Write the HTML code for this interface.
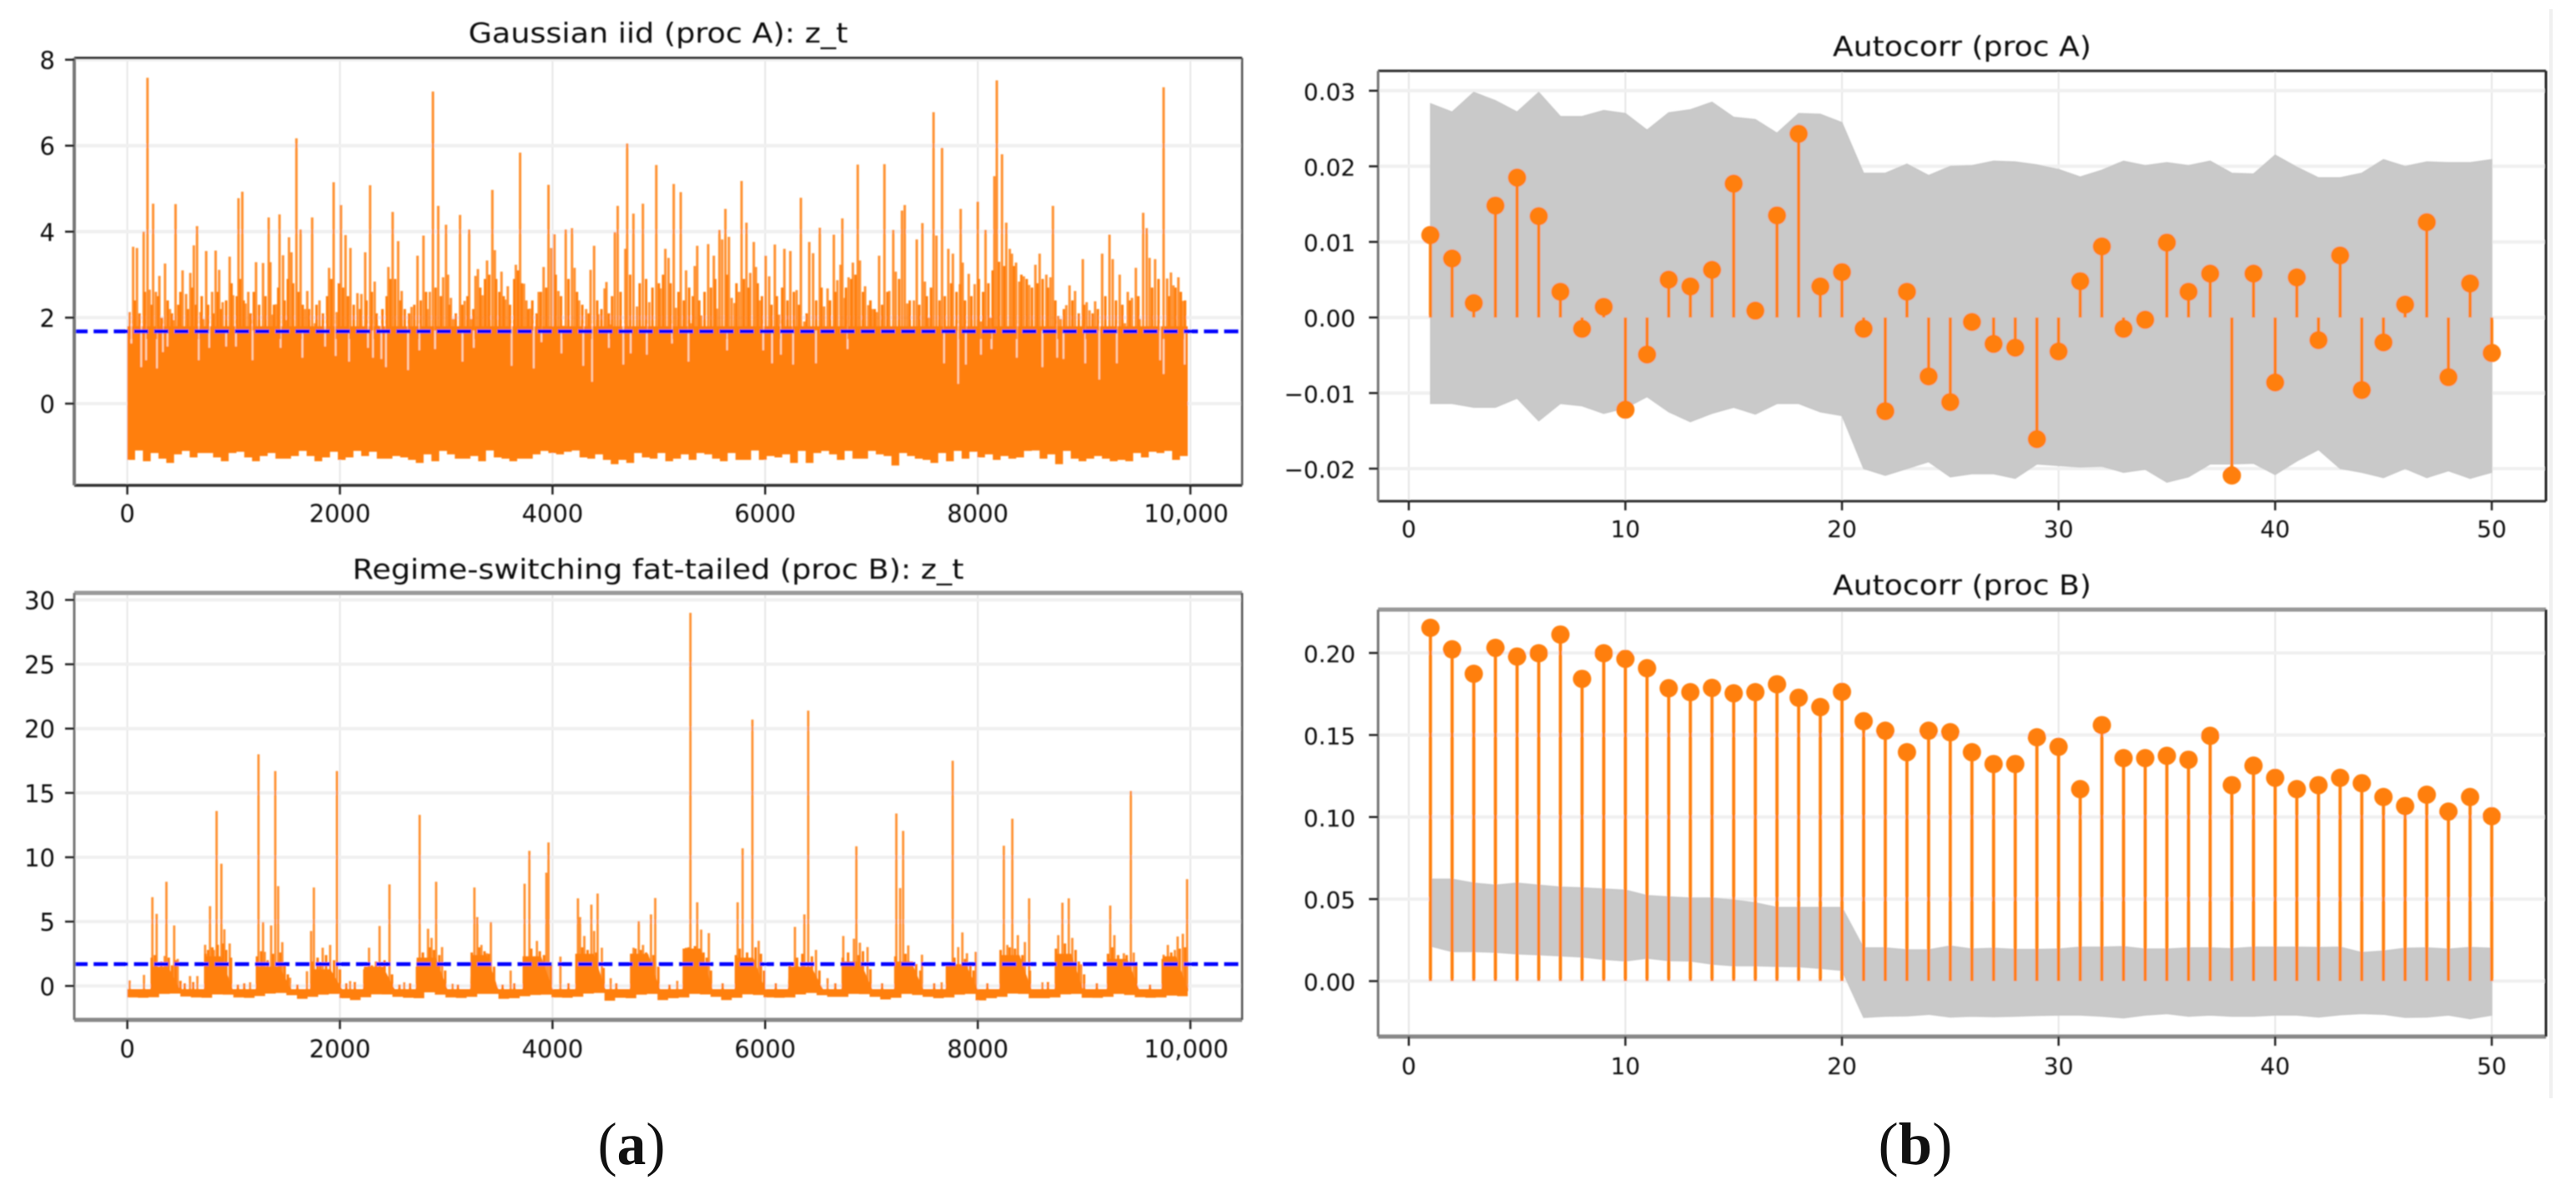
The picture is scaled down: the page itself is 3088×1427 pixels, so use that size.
<!DOCTYPE html>
<html lang="en">
<head>
<meta charset="utf-8">
<title>Gaussian and regime-switching processes with autocorrelation</title>
<style>
html,body{margin:0;padding:0;background:#fff;}
svg{display:block;}
text{font-family:"DejaVu Sans","Liberation Sans",sans-serif;fill:#111;}
.cap{font-family:"Liberation Serif",serif;}
</style>
</head>
<body>
<svg id="figure" width="3088" height="1427" viewBox="0 0 3088 1427" xmlns="http://www.w3.org/2000/svg">
<defs><filter id="soft" filterUnits="userSpaceOnUse" x="0" y="0" width="3088" height="1427"><feGaussianBlur stdDeviation="0.75"/></filter></defs>
<rect x="0" y="0" width="3088" height="1427" fill="#fff"/>
<rect x="3056" y="11" width="4" height="1306" fill="#f0f0f0"/>
<g id="root" filter="url(#soft)"></g>
</svg>
<script>
// ---------- shared tick data ----------
const timeTicks = [0, 2000, 4000, 6000, 8000, 10000];
const timeTickLabels = ['0', '2000', '4000', '6000', '8000', '10,000'];
const lagTicks = [0, 10, 20, 30, 40, 50];
const lagTickLabels = ['0', '10', '20', '30', '40', '50'];
const aYTicks = [0, 2, 4, 6, 8];
const aYTickLabels = ['0', '2', '4', '6', '8'];
const cYTicks = [0, 5, 10, 15, 20, 25, 30];
const cYTickLabels = ['0', '5', '10', '15', '20', '25', '30'];
const bYTicks = [-0.02, -0.01, 0, 0.01, 0.02, 0.03];
const bYTickLabels = ['\u22120.02', '\u22120.01', '0.00', '0.01', '0.02', '0.03'];
const dYTicks = [0, 0.05, 0.10, 0.15, 0.20];
const dYTickLabels = ['0.00', '0.05', '0.10', '0.15', '0.20'];

// ---------- process A series (visible peaks of z_t) ----------
const aThreshold = 1.68;
const aSeriesEnd = 9975;
const aBodyTop = 1.8;
const aSpikeT = [22,55,91,154,190,210,243,269,302,355,401,434,454,520,553,593,626,656,689,715,742,798,831,864,897,963,996,1046,1082,1112,1138,1211,1277,1330,1346,1366,1399,1432,1465,1491,1521,1544,1591,1630,1673,1693,1739,1766,1808,1898,1941,1970,2010,2053,2099,2165,2202,2238,2284,2327,2367,2456,2496,2548,2581,2674,2730,2786,2823,2846,2875,2925,2971,2998,3017,3044,3067,3130,3173,3216,3235,3275,3298,3341,3384,3434,3457,3520,3556,3579,3655,3695,3731,3754,3787,3870,3916,3962,3988,4018,4055,4101,4124,4183,4207,4250,4316,4358,4391,4431,4490,4507,4547,4586,4613,4685,4702,4761,4794,4850,4910,4976,5015,5061,5091,5140,5160,5206,5256,5305,5338,5361,5398,5464,5517,5546,5570,5596,5626,5659,5685,5712,5754,5778,5824,5860,5893,5913,5949,6005,6038,6091,6131,6181,6237,6296,6336,6369,6415,6451,6514,6554,6587,6646,6679,6709,6726,6749,6785,6825,6871,6891,6940,6970,7006,7049,7072,7122,7168,7205,7228,7287,7313,7337,7399,7426,7479,7502,7535,7584,7611,7664,7723,7766,7832,7839,7858,7915,7971,8000,8030,8073,8119,8156,8179,8228,8268,8301,8321,8360,8390,8433,8483,8542,8582,8645,8684,8707,8757,8780,8833,8863,8915,8988,9024,9051,9104,9170,9239,9269,9335,9384,9411,9450,9487,9523,9556,9589,9616,9668,9748,9781,9817,9840,9887,9929];
const aSpikeV = [2.13,3.65,3.62,4.0,7.58,2.65,4.65,2.6,2.97,3.26,2.2,1.94,4.64,3.1,2.55,3.04,3.68,4.13,2.13,1.97,3.55,2.6,3.56,3.11,2.36,3.42,2.52,4.78,4.93,2.33,2.6,3.29,3.27,4.33,3.29,2.07,2.31,4.4,3.45,1.94,3.87,3.52,6.17,4.05,2.2,2.62,4.33,1.87,2.4,3.16,5.15,2.13,4.62,3.92,3.62,2.57,2.55,3.52,5.08,2.84,1.81,3.18,4.46,3.78,2.62,2.25,3.44,3.91,2.2,2.6,7.26,4.6,2.94,4.16,3.0,2.46,1.97,4.39,2.39,4.05,1.97,2.97,3.13,2.52,3.33,4.97,3.57,3.07,2.42,2.73,3.23,5.84,2.79,2.4,2.21,2.6,3.18,5.09,3.62,3.94,2.62,1.81,4.05,4.08,3.16,2.4,2.2,3.11,3.67,2.08,2.68,2.83,1.84,3.99,4.6,3.6,6.05,4.42,2.26,4.65,2.36,5.55,2.68,3.6,3.39,5.11,2.23,4.92,3.1,1.87,3.2,3.67,2.05,3.71,3.44,2.21,4.04,3.82,4.53,3.88,2.46,2.34,2.6,5.18,4.21,3.04,3.76,3.18,2.4,3.44,2.96,3.7,2.07,3.6,3.55,2.64,4.79,1.91,3.76,3.5,4.09,2.26,2.68,3.93,2.87,3.23,4.31,2.46,2.94,3.28,5.56,3.33,2.73,2.29,2.2,2.13,3.44,5.57,2.62,4.04,3.07,4.49,4.62,2.33,2.4,3.82,4.2,2.84,2.0,6.78,3.91,5.95,3.6,3.49,2.78,4.53,3.28,3.02,2.78,4.7,1.91,4.04,2.0,5.29,7.52,5.8,4.21,3.6,3.49,3.28,2.84,2.96,2.76,3.23,3.49,3.0,2.94,4.6,2.04,1.97,2.29,2.75,2.62,3.36,2.36,2.17,2.38,3.49,3.93,3.36,3.0,1.87,2.6,2.46,3.16,1.97,4.44,4.08,3.39,3.36,7.36,2.91,3.05,2.75,2.94,2.39];
// lower-height peaks [t, value] that thicken the crowd just above the threshold
const aMinorPeaks = [[70,2.4],[115,2.1],[165,2.6],[230,2.3],[290,2.5],[325,2.0],[380,2.4],[420,2.1],[480,2.3],[500,2.6],[570,2.2],[610,2.7],[645,2.3],[700,2.5],[760,2.3],[810,2.1],[850,2.6],[880,2.2],[930,2.4],[980,2.8],[1030,2.5],[1060,2.9],[1095,2.4],[1160,2.1],[1190,2.6],[1240,2.3],[1300,2.5],[1380,2.3],[1420,2.7],[1480,2.4],[1510,2.9],[1560,2.8],[1610,2.6],[1650,2.3],[1710,2.2],[1780,2.3],[1840,2.1],[1880,2.5],[1920,2.9],[1990,2.8],[2030,2.7],[2075,2.5],[2130,2.3],[2190,2.2],[2250,2.4],[2300,2.6],[2345,2.1],[2400,2.2],[2440,2.5],[2475,2.9],[2520,2.9],[2570,2.4],[2610,2.2],[2650,2.1],[2700,2.3],[2760,2.4],[2810,2.6],[2900,2.7],[2950,2.5],[3030,2.3],[3090,2.1],[3150,2.3],[3200,2.5],[3255,2.2],[3320,2.7],[3365,2.9],[3405,3.0],[3470,2.9],[3500,2.6],[3540,2.5],[3600,2.3],[3640,2.9],[3675,3.1],[3710,2.8],[3770,2.2],[3810,2.4],[3850,2.1],[3890,2.6],[3940,2.7],[4030,3.0],[4080,2.5],[4150,2.9],[4230,2.6],[4280,2.3],[4340,2.1],[4420,2.4],[4460,2.2],[4530,2.1],[4560,2.5],[4640,2.6],[4730,3.0],[4820,2.8],[4880,2.9],[4940,2.7],[5000,2.8],[5040,3.0],[5110,2.8],[5185,2.6],[5235,2.4],[5285,2.7],[5320,2.5],[5380,2.4],[5430,2.6],[5490,2.7],[5530,2.9],[5640,3.0],[5730,2.8],[5800,2.9],[5845,2.7],[5930,2.8],[5970,2.5],[6060,2.3],[6110,2.5],[6160,2.7],[6210,2.4],[6270,2.6],[6320,2.3],[6390,2.1],[6480,2.4],[6530,2.7],[6610,2.4],[6660,2.6],[6760,2.7],[6810,2.9],[6850,3.0],[6920,2.6],[6990,2.4],[7030,2.2],[7100,2.3],[7150,2.6],[7260,2.9],[7360,2.4],[7450,2.3],[7520,2.5],[7560,2.7],[7640,2.4],[7690,2.5],[7750,2.8],[7800,2.6],[7880,2.4],[7940,2.5],[8010,2.9],[8050,2.6],[8100,2.8],[8140,3.1],[8200,3.3],[8250,3.2],[8340,3.2],[8410,3.0],[8460,2.9],[8510,2.7],[8560,2.8],[8610,2.9],[8660,2.7],[8730,2.4],[8810,2.2],[8890,2.4],[8950,2.1],[9000,2.3],[9080,2.1],[9130,2.2],[9200,2.5],[9300,2.4],[9360,2.3],[9430,2.4],[9510,2.5],[9640,2.7],[9700,2.9],[9800,2.5],[9860,2.7],[9910,2.6],[9950,2.4]];
const aLow = [-1.31,-1.09,-1.34,-1.15,-1.28,-1.38,-1.18,-1.1,-1.25,-1.15,-1.15,-1.25,-1.34,-1.15,-1.12,-1.25,-1.34,-1.22,-1.15,-1.28,-1.28,-1.22,-1.1,-1.22,-1.34,-1.25,-1.12,-1.31,-1.25,-1.1,-1.22,-1.12,-1.28,-1.28,-1.22,-1.25,-1.31,-1.38,-1.18,-1.34,-1.1,-1.18,-1.28,-1.28,-1.22,-1.34,-1.09,-1.25,-1.28,-1.34,-1.28,-1.28,-1.18,-1.1,-1.15,-1.18,-1.12,-1.09,-1.25,-1.28,-1.18,-1.31,-1.41,-1.31,-1.38,-1.15,-1.25,-1.28,-1.15,-1.34,-1.28,-1.18,-1.31,-1.15,-1.18,-1.28,-1.34,-1.15,-1.31,-1.31,-1.09,-1.31,-1.22,-1.25,-1.18,-1.38,-1.1,-1.38,-1.15,-1.1,-1.18,-1.31,-1.1,-1.28,-1.28,-1.1,-1.18,-1.22,-1.44,-1.15,-1.22,-1.28,-1.31,-1.38,-1.15,-1.34,-1.1,-1.28,-1.12,-1.25,-1.18,-1.31,-1.22,-1.28,-1.25,-1.1,-1.09,-1.28,-1.18,-1.41,-1.1,-1.28,-1.34,-1.28,-1.22,-1.28,-1.34,-1.31,-1.34,-1.15,-1.25,-1.12,-1.15,-1.1,-1.31,-1.22];
const aNotchT = [38,131,177,279,335,378,672,771,930,1022,1178,1442,1647,1861,1960,2086,2264,2311,2390,2433,2641,2747,2895,3153,3259,3615,3823,3896,4084,4289,4372,4530,4666,4735,4887,5124,5279,5642,5982,6065,6148,6263,6478,6775,7683,7816,7888,8030,8129,8367,8608,8747,8806,9011,9143,9308,9715,9748,9946];
const aNotchV = [1.4,0.85,1.01,0.82,1.2,1.33,1.01,1.3,1.33,1.33,1.01,1.3,1.07,1.33,1.11,0.98,1.3,1.07,1.04,0.85,0.78,1.24,1.27,0.98,1.3,0.88,0.82,1.43,1.17,0.88,0.51,1.3,0.91,1.17,1.14,1.4,0.98,1.24,1.24,0.94,1.14,0.91,0.94,1.27,0.94,0.46,0.91,1.14,1.27,1.07,0.85,1.07,1.04,0.94,0.56,0.94,1.01,0.69,0.91];

// ---------- process B series (visible peaks and regime bursts of z_t) ----------
const cThreshold = 1.7;
const cSeriesEnd = 9975;
const cCalmTop = -0.25;
const cSpikeT = [22,157,236,276,302,352,368,441,474,590,659,732,778,814,840,885,913,963,1155,1234,1277,1293,1353,1392,1419,1458,1531,1690,1729,1755,1838,1908,1972,2096,2274,2373,2466,2605,2750,2829,2862,2905,2961,3060,3265,3292,3331,3381,3420,3606,3737,3782,3853,3942,3962,4074,4239,4259,4299,4365,4391,4424,4464,4547,4762,4811,4851,4926,4966,5173,5256,5297,5361,5398,5470,5741,5788,5880,5939,6280,6369,6405,6478,6587,6735,6835,6858,6891,6963,7234,7270,7298,7346,7475,7660,7764,7816,7855,7898,7981,8245,8278,8325,8377,8443,8483,8608,8757,8796,8856,8889,8972,9246,9285,9374,9440,9467,9748,9788,9854,9880,9929,9969];
const cSpikeV = [0.43,0.86,6.9,5.6,1.03,2.33,8.1,4.7,2.1,0.77,0.77,3.2,6.2,2.8,13.6,9.5,4.4,3.3,0.28,18,4.96,2.65,4.7,16.7,7.76,3.4,0.64,1.14,4.27,7.65,2.97,3.19,16.7,0.38,2.97,4.66,7.89,0.28,13.3,4.44,3.73,8.1,3.02,0.17,7.65,5.35,3.19,2.54,4.96,1.2,7.94,10.5,3.5,8.8,11.15,2.28,6.81,5.35,3.88,6.32,4.27,7.18,2.97,0.6,2.97,5.03,3.19,5.56,6.83,0.4,2.97,29,6.5,4.38,4.1,6.5,10.7,20.7,3.51,4.59,5.56,21.4,2.8,0.6,3.88,3.67,10.85,3.36,3.02,13.4,7.6,12.05,3.15,2.43,0.28,17.5,3.02,4.16,2.54,2.65,10.9,3.19,13,3.95,3.41,6.81,0.28,3.95,6.47,6.81,3.73,1.68,6.25,3.95,2.54,15.15,2.59,2.43,3.19,2.8,3.84,4.05,8.3];
// small peaks [t, value] that give each burst its spiky top and the calm stretches their bumps
const cMinorPeaks = [[230,2.2],[260,2.4],[320,1.9],[390,2.2],[420,1.6],[455,2.0],[500,0.4],[540,0.2],[620,0.3],[735,2.5],[760,2.8],[800,3.0],[850,3.2],[900,3.3],[930,2.8],[975,2.2],[1040,0.1],[1100,0.2],[1220,2.3],[1260,2.7],[1320,2.0],[1370,2.5],[1440,2.6],[1480,1.8],[1510,0.9],[1600,0.1],[1740,1.9],[1790,2.2],[1815,1.8],[1870,2.4],[1945,2.0],[2000,1.3],[2060,0.2],[2140,0.3],[2230,1.3],[2300,1.6],[2340,1.9],[2420,2.0],[2490,0.9],[2560,0.1],[2660,0.2],[2725,1.5],[2780,2.6],[2845,3.0],[2885,2.8],[2935,2.4],[2990,1.2],[3110,0.1],[3240,2.6],[3310,3.0],[3360,2.7],[3400,2.5],[3450,1.5],[3530,0.1],[3640,0.2],[3730,2.3],[3800,2.9],[3880,2.7],[3920,2.4],[3985,1.6],[4150,0.2],[4225,2.5],[4280,3.0],[4330,2.8],[4410,2.6],[4480,1.4],[4600,0.2],[4740,2.5],[4780,2.9],[4830,2.8],[4880,2.6],[4950,2.4],[4995,1.5],[5100,0.1],[5235,2.9],[5280,3.0],[5340,3.1],[5420,2.6],[5450,2.2],[5490,1.2],[5600,0.2],[5725,2.4],[5760,2.9],[5830,2.6],[5910,3.0],[5960,2.5],[5990,1.2],[6100,0.2],[6230,1.6],[6300,2.2],[6350,2.5],[6440,2.3],[6510,1.2],[6660,0.2],[6730,2.2],[6780,2.6],[6880,2.4],[6920,2.7],[6990,1.3],[7100,0.2],[7225,2.3],[7320,2.5],[7380,1.9],[7420,1.7],[7460,1.2],[7590,0.2],[7710,1.8],[7780,2.2],[7880,2.1],[7930,1.8],[7960,1.2],[8090,0.2],[8215,2.8],[8300,3.0],[8350,2.9],[8420,2.4],[8490,1.2],[8660,0.3],[8735,2.9],[8820,3.3],[8920,2.8],[8950,1.9],[9000,0.9],[9120,0.2],[9225,2.5],[9265,3.0],[9320,2.4],[9400,2.4],[9490,1.8],[9620,0.1],[9740,2.1],[9820,2.6],[9900,2.9],[9950,3.0]];
const burstStart = [220,722,1211,1723,2218,2714,3225,3721,4217,4728,5223,5718,6214,6719,7221,7700,8205,8724,9219,9731];
const burstEnd = [494,990,1541,2020,2515,3011,3490,4002,4497,5009,5503,5999,6544,7006,7485,7997,8503,8988,9517,9975];
const burstTop = [1.5,2.3,1.5,1.3,1.5,2.2,2.4,2.3,2.5,2.5,2.9,2.2,1.5,1.9,1.9,1.7,2.4,2.5,2.1,2.3];
const cLow = [-0.9,-0.92,-0.88,-0.62,-0.6,-0.82,-0.9,-0.92,-0.66,-0.68,-0.9,-0.93,-0.78,-0.6,-0.55,-0.72,-1.0,-0.85,-0.68,-0.62,-0.95,-1.1,-0.88,-0.65,-0.66,-0.85,-0.92,-0.95,-0.5,-0.68,-0.9,-0.94,-0.85,-0.62,-0.62,-1.0,-0.95,-0.8,-0.7,-0.68,-0.9,-0.92,-0.84,-0.6,-0.55,-1.15,-0.92,-0.95,-0.68,-0.62,-1.1,-0.95,-0.9,-0.62,-0.66,-0.85,-1.1,-0.92,-0.65,-0.7,-0.9,-0.92,-0.9,-0.66,-0.55,-0.72,-0.85,-0.85,-0.62,-0.64,-0.85,-1.05,-0.92,-0.62,-0.7,-0.85,-0.95,-0.9,-0.68,-0.62,-1.12,-0.95,-0.85,-0.6,-0.62,-0.95,-0.95,-0.9,-0.65,-0.62,-0.92,-0.93,-0.85,-0.62,-0.7,-0.88,-0.92,-0.9,-0.75,-0.8];

// ---------- autocorrelation data ----------
const lags = [1,2,3,4,5,6,7,8,9,10,11,12,13,14,15,16,17,18,19,20,21,22,23,24,25,26,27,28,29,30,31,32,33,34,35,36,37,38,39,40,41,42,43,44,45,46,47,48,49,50];
const acfA = [0.0109,0.0078,0.0019,0.0148,0.0185,0.0134,0.0034,-0.0015,0.0014,-0.0122,-0.0049,0.0050,0.0041,0.0063,0.0177,0.0009,0.0135,0.0243,0.0041,0.0060,-0.0015,-0.0124,0.0034,-0.0078,-0.0112,-0.0006,-0.0035,-0.0040,-0.0161,-0.0045,0.0048,0.0094,-0.0015,-0.0003,0.0099,0.0034,0.0058,-0.0209,0.0058,-0.0086,0.0053,-0.0030,0.0082,-0.0096,-0.0033,0.0017,0.0126,-0.0079,0.0045,-0.0047];
const bandAUpper = [0.0283,0.0272,0.0298,0.0287,0.0272,0.0298,0.0266,0.0266,0.0274,0.0270,0.0248,0.0271,0.0275,0.0285,0.0265,0.0262,0.0244,0.0270,0.0269,0.0258,0.0191,0.0191,0.0203,0.0188,0.0200,0.0201,0.0207,0.0206,0.0202,0.0196,0.0186,0.0195,0.0207,0.0201,0.0205,0.0201,0.0207,0.0191,0.0190,0.0215,0.0199,0.0185,0.0185,0.0191,0.0209,0.0200,0.0206,0.0205,0.0205,0.0209];
const bandALower = [-0.0114,-0.0114,-0.0119,-0.0119,-0.0107,-0.0137,-0.0114,-0.0117,-0.0127,-0.0120,-0.0105,-0.0125,-0.0138,-0.0127,-0.0119,-0.0128,-0.0114,-0.0114,-0.0125,-0.0130,-0.0200,-0.0209,-0.0200,-0.0191,-0.0211,-0.0207,-0.0207,-0.0213,-0.0194,-0.0196,-0.0198,-0.0197,-0.0205,-0.0201,-0.0218,-0.0211,-0.0194,-0.0194,-0.0193,-0.0208,-0.0190,-0.0175,-0.0200,-0.0205,-0.0212,-0.0200,-0.0212,-0.0203,-0.0213,-0.0205];
const acfB = [0.2153,0.2022,0.1873,0.2031,0.1978,0.1998,0.2112,0.1842,0.1998,0.1964,0.1907,0.1785,0.1761,0.1787,0.1754,0.1761,0.1809,0.1727,0.167,0.1763,0.1584,0.1526,0.1395,0.1526,0.1517,0.1395,0.1323,0.1323,0.1486,0.1428,0.117,0.156,0.1359,0.1359,0.1373,0.1349,0.1495,0.1194,0.1313,0.1239,0.117,0.1194,0.1239,0.1206,0.1122,0.1067,0.1136,0.1033,0.1122,0.1005];
const bandBUpper = [0.0622,0.0622,0.0598,0.0586,0.0598,0.0586,0.0574,0.0569,0.0562,0.0555,0.0522,0.0514,0.0507,0.0507,0.0495,0.0478,0.045,0.045,0.045,0.045,0.0203,0.0203,0.0191,0.0191,0.0215,0.0196,0.0201,0.0194,0.0194,0.0196,0.0208,0.0208,0.0211,0.0196,0.0196,0.0203,0.0203,0.0198,0.0208,0.0208,0.0208,0.0206,0.0208,0.0175,0.0184,0.0201,0.0203,0.0196,0.0206,0.0201];
const bandBLower = [0.0213,0.0179,0.0179,0.0175,0.0165,0.016,0.0153,0.0146,0.0132,0.0122,0.0139,0.0124,0.0122,0.0103,0.0093,0.0093,0.0089,0.0087,0.0077,0.0065,-0.0222,-0.0215,-0.0213,-0.0203,-0.022,-0.0215,-0.0218,-0.0215,-0.021,-0.0208,-0.0208,-0.0215,-0.0225,-0.0208,-0.0199,-0.0215,-0.0208,-0.0215,-0.0215,-0.0208,-0.0208,-0.022,-0.0206,-0.0199,-0.0203,-0.0222,-0.022,-0.0208,-0.023,-0.0208];

// ---------- helpers ----------
const NS = 'http://www.w3.org/2000/svg';
const ORANGE = '#ff7f0e';
const root = document.getElementById('root');
function node(tag, parent, attrs) {
  const el = document.createElementNS(NS, tag);
  for (const k in attrs) el.setAttribute(k, attrs[k]);
  parent.appendChild(el);
  return el;
}
function linear(d0, d1, r0, r1) {
  return v => r0 + (v - d0) * (r1 - r0) / (d1 - d0);
}

function drawGrid(p) {
  p.xTicks.forEach(v => {
    const el = node('line', p.g, {x1: p.x(v), x2: p.x(v), y1: p.box.t, y2: p.box.b, stroke: '#e6e6e6', 'stroke-width': 2});
    
    
  });
  p.yTicks.forEach(v => {
    const el = node('line', p.g, {x1: p.box.l, x2: p.box.r, y1: p.y(v), y2: p.y(v), stroke: '#f0f0f0', 'stroke-width': 4});
    
    
  });
}

function drawFrame(p) {
  const b = p.box, f = p.frame;
  const sides = [
    ['frame-top', b.l, b.t, b.r, b.t, f.top[0], f.top[1]],
    ['frame-bottom', b.l, b.b, b.r, b.b, f.bottom[0], f.bottom[1]],
    ['frame-left', b.l, b.t, b.l, b.b, f.left[0], f.left[1]],
    ['frame-right', b.r, b.t, b.r, b.b, f.right[0], f.right[1]]
  ];
  sides.forEach(s => {
    const el = node('line', p.g, {x1: s[1], y1: s[2], x2: s[3], y2: s[4], stroke: s[5], 'stroke-width': s[6]});
    
    
  });
  p.xTicks.forEach((v, i) => {
    const tick = node('line', p.g, {x1: p.x(v), x2: p.x(v), y1: b.b, y2: b.b + 11, stroke: '#222', 'stroke-width': 2.5});
    
    
    const label = node('text', p.g, {x: p.x(v) + (i === p.xTicks.length - 1 ? p.lastDx : 0), y: p.xLabelY, 'font-size': p.fontSize, 'text-anchor': 'middle'});
    label.textContent = p.xLabels[i];
    
    
  });
  p.yTicks.forEach((v, i) => {
    const tick = node('line', p.g, {x1: b.l - 11, x2: b.l, y1: p.y(v), y2: p.y(v), stroke: '#222', 'stroke-width': 2.5});
    
    
    const label = node('text', p.g, {x: p.yLabelX, y: p.y(v) + 11, 'font-size': p.fontSize, 'text-anchor': 'end'});
    label.textContent = p.yLabels[i];
    
    
  });
  const title = node('text', p.g, {x: (b.l + b.r) / 2, y: p.titleY, 'font-size': 33, 'text-anchor': 'middle', textLength: p.titleWidth, lengthAdjust: 'spacingAndGlyphs'});
  title.textContent = p.title;
  
  
}

function makePanel(name, cfg) {
  const g = node('g', root, {});
  
  
  return Object.assign({g: g}, cfg);
}

function drawThreshold(p, value) {
  const el = node('line', p.g, {x1: p.box.l - 1, x2: p.box.r, y1: p.y(value), y2: p.y(value), stroke: '#0000ff', 'stroke-width': 4.5, 'stroke-dasharray': '17 7.2'});
  
  
}

function drawSpikes(p, ts, vs, baseV, width) {
  ts.forEach((t, i) => {
    const el = node('line', p.g, {x1: p.x(t), x2: p.x(t), y1: p.y(baseV), y2: p.y(vs[i]), stroke: ORANGE, 'stroke-width': width, 'stroke-opacity': 0.85});
    
    
  });
}

function drawMinorPeaks(p, peaks, baseV, width) {
  peaks.forEach(pk => {
    const el = node('line', p.g, {x1: p.x(pk[0]), x2: p.x(pk[0]), y1: p.y(baseV), y2: p.y(pk[1]), stroke: ORANGE, 'stroke-width': width});
    
    
  });
}

function drawAcf(p, values, upper, lower) {
  const top = lags.map((l, i) => p.x(l) + ',' + p.y(upper[i]));
  const bot = lags.map((l, i) => p.x(l) + ',' + p.y(lower[i])).reverse();
  const band = node('polygon', p.g, {points: top.concat(bot).join(' '), fill: '#c9c9c9', stroke: '#c4c4c4', 'stroke-width': 1});
  
  
  lags.forEach((l, i) => {
    const stem = node('line', p.g, {x1: p.x(l), x2: p.x(l), y1: p.y(0), y2: p.y(values[i]), stroke: ORANGE, 'stroke-width': 3.8});
    
    
    const dot = node('circle', p.g, {cx: p.x(l), cy: p.y(values[i]), r: 11, fill: ORANGE});
    
    
  });
}

// ---------- panel A: Gaussian iid ----------
const pA = makePanel('panel-proc-a-series', {
  box: {l: 89, r: 1489, t: 69.5, b: 582},
  x: linear(0, 10000, 152.6, 1427),
  y: linear(0, 8, 484, 71.6),
  xTicks: timeTicks, xLabels: timeTickLabels, yTicks: aYTicks, yLabels: aYTickLabels,
  xLabelY: 626, yLabelX: 66, fontSize: 29, lastDx: -5,
  title: 'Gaussian iid (proc A): z_t', titleY: 51, titleWidth: 455,
  frame: {top: ['#333', 3], bottom: ['#333', 3.5], left: ['#777', 4], right: ['#555', 2.5]}
});
drawGrid(pA);
(function () {
  const pts = [pA.x(0) + ',' + pA.y(aBodyTop), pA.x(aSeriesEnd) + ',' + pA.y(aBodyTop)];
  const step = aSeriesEnd / aLow.length;
  for (let i = aLow.length - 1; i >= 0; i--) {
    pts.push(pA.x((i + 1) * step) + ',' + pA.y(aLow[i]));
    pts.push(pA.x(i * step) + ',' + pA.y(aLow[i]));
  }
  const body = node('polygon', pA.g, {points: pts.join(' '), fill: ORANGE});
  
  
})();
aNotchT.forEach((t, i) => {
  const el = node('line', pA.g, {x1: pA.x(t), x2: pA.x(t), y1: pA.y(aBodyTop + 0.05), y2: pA.y(aNotchV[i]), stroke: '#fff', 'stroke-width': 2, 'stroke-opacity': 0.7});
  
  
});
drawMinorPeaks(pA, aMinorPeaks, 1.7, 3);
drawSpikes(pA, aSpikeT, aSpikeV, 1.5, 3);
drawThreshold(pA, aThreshold);
drawFrame(pA);

// ---------- panel C: regime-switching ----------
const pC = makePanel('panel-proc-b-series', {
  box: {l: 89, r: 1489, t: 711, b: 1223},
  x: linear(0, 10000, 152.6, 1427),
  y: linear(0, 30, 1182.3, 719.4),
  xTicks: timeTicks, xLabels: timeTickLabels, yTicks: cYTicks, yLabels: cYTickLabels,
  xLabelY: 1268, yLabelX: 66, fontSize: 29, lastDx: -5,
  title: 'Regime-switching fat-tailed (proc B): z_t', titleY: 694, titleWidth: 733,
  frame: {top: ['#999', 5], bottom: ['#888', 5], left: ['#777', 3], right: ['#555', 2.5]}
});
drawGrid(pC);
(function () {
  const pts = [pC.x(0) + ',' + pC.y(cCalmTop)];
  burstStart.forEach((s, i) => {
    const e = burstEnd[i];
    pts.push(pC.x(s) + ',' + pC.y(cCalmTop));
    pts.push(pC.x(s + 8) + ',' + pC.y(burstTop[i]));
    pts.push(pC.x(e - 110) + ',' + pC.y(burstTop[i]));
    pts.push(pC.x(e) + ',' + pC.y(cCalmTop));
  });
  pts.push(pC.x(cSeriesEnd) + ',' + pC.y(cCalmTop));
  const step = cSeriesEnd / cLow.length;
  for (let i = cLow.length - 1; i >= 0; i--) {
    pts.push(pC.x((i + 1) * step) + ',' + pC.y(cLow[i]));
    pts.push(pC.x(i * step) + ',' + pC.y(cLow[i]));
  }
  const body = node('polygon', pC.g, {points: pts.join(' '), fill: ORANGE});
  
  
})();
drawMinorPeaks(pC, cMinorPeaks, -0.4, 3);
drawSpikes(pC, cSpikeT, cSpikeV, -0.4, 2.8);
drawThreshold(pC, cThreshold);
drawFrame(pC);

// ---------- panel B: autocorr proc A ----------
const pB = makePanel('panel-proc-a-autocorr', {
  box: {l: 1652, r: 3052, t: 85, b: 601},
  x: linear(0, 50, 1688.8, 2987),
  y: linear(0, 0.03, 380.7, 108.8),
  xTicks: lagTicks, xLabels: lagTickLabels, yTicks: bYTicks, yLabels: bYTickLabels,
  xLabelY: 644, yLabelX: 1625, fontSize: 28, lastDx: 0,
  title: 'Autocorr (proc A)', titleY: 67, titleWidth: 310,
  frame: {top: ['#333', 3], bottom: ['#333', 3], left: ['#777', 3], right: ['#222', 3]}
});
drawGrid(pB);
drawAcf(pB, acfA, bandAUpper, bandALower);
drawFrame(pB);

// ---------- panel D: autocorr proc B ----------
const pD = makePanel('panel-proc-b-autocorr', {
  box: {l: 1652, r: 3052, t: 731, b: 1243},
  x: linear(0, 50, 1688.8, 2987),
  y: linear(0, 0.2, 1176.5, 783),
  xTicks: lagTicks, xLabels: lagTickLabels, yTicks: dYTicks, yLabels: dYTickLabels,
  xLabelY: 1288, yLabelX: 1625, fontSize: 28, lastDx: 0,
  title: 'Autocorr (proc B)', titleY: 713, titleWidth: 310,
  frame: {top: ['#999', 5], bottom: ['#888', 5], left: ['#777', 3], right: ['#222', 3]}
});
drawGrid(pD);
drawAcf(pD, acfB, bandBUpper, bandBLower);
drawFrame(pD);
</script>
<svg style="position:absolute;left:0;top:0" width="3088" height="1427" viewBox="0 0 3088 1427" xmlns="http://www.w3.org/2000/svg">
<text class="cap" x="757" y="1396" font-size="72" text-anchor="middle" textLength="81" lengthAdjust="spacingAndGlyphs">(<tspan font-weight="bold">a</tspan>)</text>
<text class="cap" x="2296" y="1396" font-size="72" text-anchor="middle" textLength="89" lengthAdjust="spacingAndGlyphs">(<tspan font-weight="bold">b</tspan>)</text>
</svg>
</body>
</html>
